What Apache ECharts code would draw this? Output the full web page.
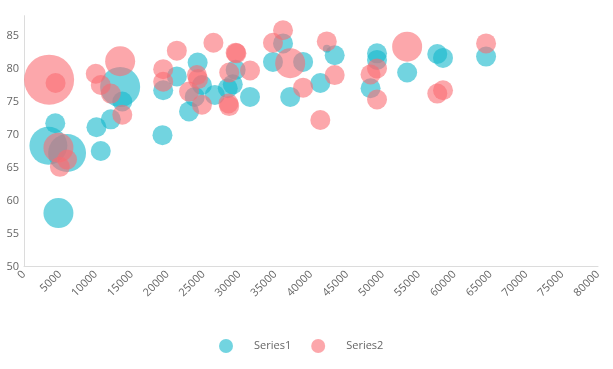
<!DOCTYPE html>
<html>
<head>
<meta charset="utf-8">
<script src="https://cdn.jsdelivr.net/npm/echarts@6/dist/echarts.min.js"></script>
<style>
html,body{margin:0;padding:0;background:#fff;}
#main{width:613px;height:369px;}
</style>
</head>
<body>
<div id="main"></div>
<script>
// [x, y, size]
var series1Data = [
  [3400, 68.3, 14.4], [6000, 67.2, 14.4], [4800, 58.1, 9], [4360, 71.7, 4],
  [10100, 71.1, 4], [10700, 67.5, 4], [12100, 72.3, 4], [13400, 77.2, 16],
  [13700, 75.0, 4], [19300, 69.9, 4], [19400, 76.7, 4], [21300, 78.8, 4],
  [23000, 73.5, 4], [24200, 80.9, 4], [24800, 77.5, 4], [23800, 75.7, 4],
  [26600, 76.0, 4], [29500, 79.8, 4], [29100, 77.6, 4], [28400, 77.0, 4],
  [31500, 75.7, 4], [34700, 81.0, 4], [36100, 83.8, 4], [38900, 81.0, 4],
  [37100, 75.7, 4], [41300, 77.8, 4], [43300, 82.0, 4], [42200, 83.0, 0.6],
  [49200, 82.3, 4], [49200, 81.3, 4], [48300, 77.0, 4], [53400, 79.4, 4],
  [57600, 82.2, 4], [58400, 81.6, 4], [64400, 81.8, 4]
];
var series2Data = [
  [3500, 78.3, 25], [4400, 77.8, 4], [4800, 68.0, 9], [6000, 66.2, 4],
  [5000, 65.1, 4], [10000, 79.2, 4], [10700, 77.5, 4], [12100, 76.2, 4],
  [13400, 81.1, 9], [13700, 73.0, 4], [19400, 79.9, 4], [19400, 78.0, 4],
  [21300, 82.7, 4], [24100, 79.0, 4], [24250, 78.4, 4], [23000, 76.5, 4],
  [24800, 74.5, 4], [26400, 83.9, 4], [29500, 82.4, 4], [29600, 82.3, 4],
  [28600, 79.4, 4], [28600, 74.3, 4], [28500, 74.7, 4], [31500, 79.7, 4],
  [34700, 83.9, 4], [36100, 85.8, 4], [37100, 80.8, 9], [38900, 77.1, 4],
  [42200, 84.1, 4], [41300, 72.2, 4], [43300, 79.0, 4], [49200, 80.0, 4],
  [48300, 79.1, 4], [49200, 75.3, 4], [53400, 83.3, 9], [57600, 76.2, 4],
  [58400, 76.7, 4], [64400, 83.8, 4]
];
var seriesNames = ['Series1', 'Series2'];
var xMin = 0, xMax = 80000, xStep = 5000;
var yMin = 50, yMax = 88, yStep = 5;

var chart = echarts.init(document.getElementById('main'), null, {renderer: 'canvas'});
function sizeFn(v) { return 10 * Math.sqrt(v[2]); }
var font = '"Open Sans", "Noto Sans", sans-serif';
chart.setOption({
  animation: false,
  color: ['rgb(20,183,203)', 'rgb(250,108,115)'],
  grid: {left: 24, right: 15, top: 15.7, bottom: 102.5, containLabel: false},
  legend: {
    data: seriesNames,
    left: 214, top: 334,
    icon: 'circle', itemWidth: 14, itemHeight: 14, itemGap: 20,
    textStyle: {color: '#666', fontSize: 11, fontFamily: font, padding: [0, 0, 0, 16]}
  },
  xAxis: {
    type: 'value', min: xMin, max: xMax, interval: xStep,
    axisLine: {show: true, lineStyle: {color: '#dcdcdc'}},
    axisTick: {show: false},
    splitLine: {show: false},
    axisLabel: {rotate: 45, color: '#666', fontSize: 11, fontFamily: font, margin: 6,
      formatter: function (v) { return String(v); }}
  },
  yAxis: {
    type: 'value', min: yMin, max: yMax, interval: yStep,
    axisLine: {show: true, lineStyle: {color: '#dcdcdc'}},
    axisTick: {show: false},
    splitLine: {show: false},
    axisLabel: {color: '#666', fontSize: 11, fontFamily: font, margin: 5, showMaxLabel: false}
  },
  series: [
    {name: seriesNames[0], type: 'scatter', data: series1Data, symbolSize: sizeFn,
     itemStyle: {opacity: 0.6}},
    {name: seriesNames[1], type: 'scatter', data: series2Data, symbolSize: sizeFn,
     itemStyle: {opacity: 0.6}}
  ]
});
</script>
</body>
</html>
